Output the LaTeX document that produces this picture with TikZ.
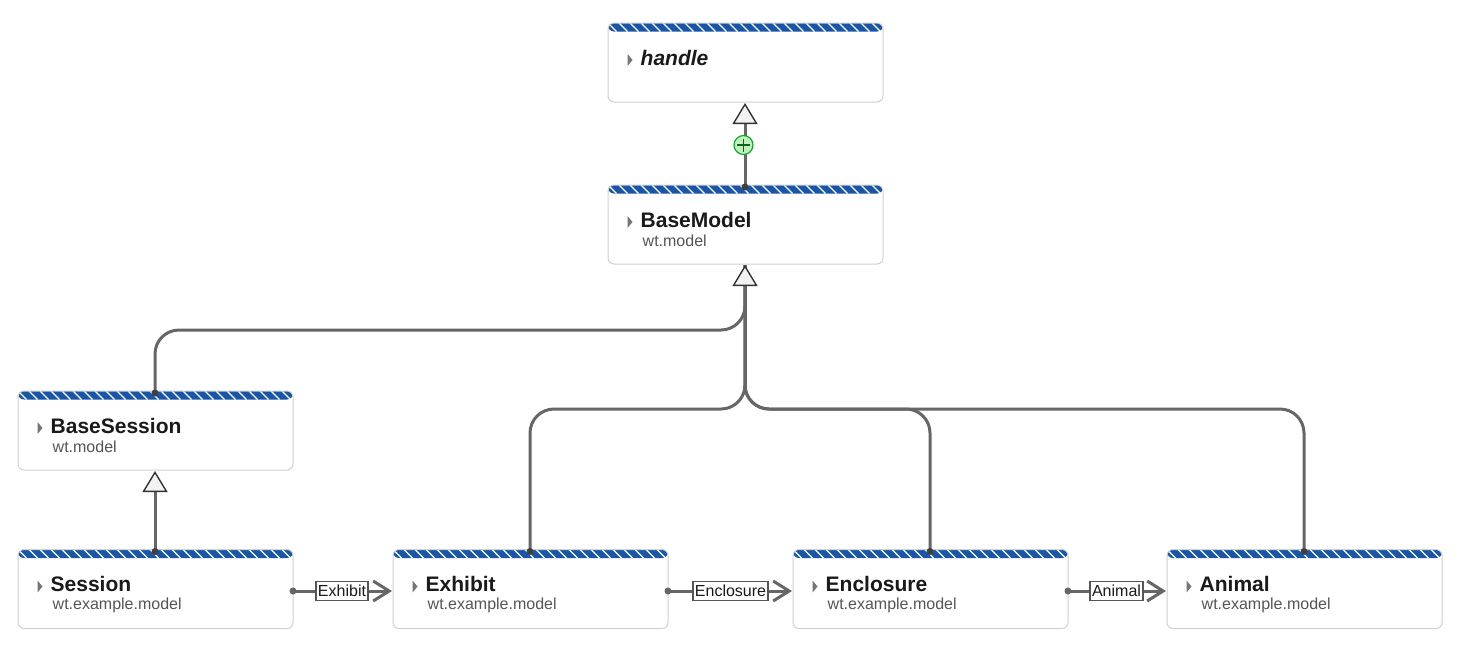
\documentclass[tikz,border=0pt]{standalone}
\usepackage{fontspec}
\setmainfont{Liberation Sans}
\usetikzlibrary{arrows.meta,calc}
\definecolor{hdrblue}{HTML}{1A56A8}
\definecolor{boxline}{HTML}{D0D0D0}
\definecolor{conn}{HTML}{666666}
\definecolor{titlecol}{HTML}{1A1A1A}
\definecolor{subcol}{HTML}{555555}
\definecolor{tipfill}{HTML}{F2F2F2}
\definecolor{plusfill}{HTML}{BDF2BD}
\definecolor{plusline}{HTML}{1FA32F}
\tikzset{
  classbox/.style={draw=boxline,line width=1pt,fill=white,rounded corners=6pt,
    minimum width=275pt,minimum height=79pt,inner sep=0pt,outer sep=0pt,anchor=north west,
    path picture={
      \fill[hdrblue] (path picture bounding box.north west) rectangle ++(275pt,-8.5pt);
      \foreach \i in {-1,...,25}{
        \draw[white,line width=1.3pt] ($(path picture bounding box.north west)+(\i*11pt,0pt)$) -- ++(8.5pt,-8.5pt);
      }
    }},
  classtitle/.style={anchor=west,inner sep=0pt,font=\bfseries\fontsize{21}{25}\selectfont,text=titlecol},
  classsub/.style={anchor=west,inner sep=0pt,font=\fontsize{16}{19}\selectfont,text=subcol},
  expander/.style={fill=conn!90!white},
  linkline/.style={draw=conn,line width=3pt,line cap=butt},
  curvedlink/.style={linkline,rounded corners=24pt},
  inheritlink/.style={linkline,-{Triangle[length=21pt,width=25pt,line width=1.4pt,color=black!80,fill=tipfill]}},
  assoclink/.style={linkline,-{Straight Barb[length=16pt,width=20pt,line width=3pt]},shorten >=1pt},
  linklabel/.style={draw=subcol,line width=1.2pt,fill=white,text=titlecol,inner xsep=2pt,inner ysep=0pt,
    minimum height=19pt,font=\fontsize{16}{19}\selectfont},
  plusmark/.style={circle,draw=plusline,line width=1.2pt,fill=plusfill,minimum size=19pt,inner sep=0pt},
  jointdot/.style={fill=black!75}
}
\newcommand{\umlbox}[5]{%
  \node[classbox] (#1) at (#2,#3) {};
  \fill[expander] (#2+19.5,#3+31) -- (#2+24.5,#3+37) -- (#2+19.5,#3+43) -- cycle;
  \node[classtitle] (#1-title) at (#2+32.5,#3+34.5) {#4};
  \node[classsub] (#1-sub) at (#2+34.5,#3+55.5) {#5};
  \coordinate (#1-r) at (#2+275,#3+41.5);
  \coordinate (#1-l) at (#2,#3+41.5);
  \coordinate (#1-t) at (#2+137,#3+2);
  \coordinate (#1-b) at (#2+137,#3+80);
}
\begin{document}
\begin{tikzpicture}[x=1pt,y=-1pt]
\useasboundingbox (0,0) rectangle (1467,649);
\umlbox{handle}{608}{23}{\itshape handle}{}
\umlbox{basemodel}{608}{185}{BaseModel}{wt.model}
\umlbox{basesession}{18}{391}{BaseSession}{wt.model}
\umlbox{session}{18}{549.5}{Session}{wt.example.model}
\umlbox{exhibit}{393}{549.5}{Exhibit}{wt.example.model}
\umlbox{enclosure}{793}{549.5}{Enclosure}{wt.example.model}
\umlbox{animal}{1167}{549.5}{Animal}{wt.example.model}
\coordinate (upper) at (745,330);
\coordinate (lower) at (745,409);
\coordinate (stem) at (745,392);
% branches
\draw[curvedlink] (basesession-t) -- (basesession-t |- upper) -- (upper) -- (basemodel-b);
\draw[curvedlink] (exhibit-t) -- (exhibit-t |- lower) -- (lower) -- (basemodel-b);
\draw[curvedlink] (enclosure-t) -- (enclosure-t |- lower) -- (lower) -- (basemodel-b);
\draw[curvedlink] (animal-t) -- (animal-t |- lower) -- (lower) -- (basemodel-b);
% generalisations
\draw[inheritlink] (stem) -- (basemodel-b);
\draw[inheritlink] (basemodel-t) -- (handle-b);
\draw[inheritlink] (session-t) -- (basesession-b);
\foreach \n in {basemodel,basesession,session,exhibit,enclosure,animal}{
  \fill[jointdot] (\n-t) circle (3.5pt);
}
\node[plusmark] (plus) at (743.5,145) {};
\draw[plusline!60!black,line width=1.2pt] ($(plus)+(-6.5pt,0)$) -- ($(plus)+(6.5pt,0)$);
\draw[plusline!60!black,line width=1.2pt] ($(plus)+(0,-6.5pt)$) -- ($(plus)+(0,6.5pt)$);
% associations
\draw[assoclink] (session-r) -- node[linklabel,xshift=-1pt] (lab1) {Exhibit} (exhibit-l);
\draw[assoclink] (exhibit-r) -- node[linklabel] (lab2) {Enclosure} (enclosure-l);
\draw[assoclink] (enclosure-r) -- node[linklabel,xshift=-1pt] (lab3) {Animal} (animal-l);
\foreach \n in {session,exhibit,enclosure}{
  \fill[conn] (\n-r) circle (3.5pt);
}
\end{tikzpicture}
\end{document}
